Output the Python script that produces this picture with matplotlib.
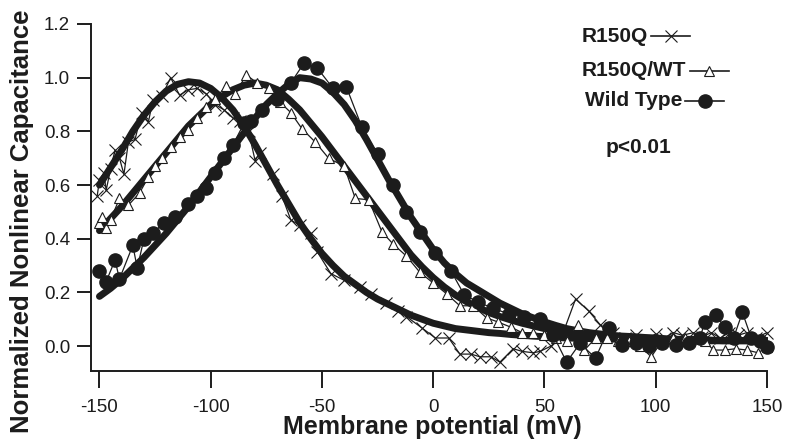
import matplotlib
matplotlib.use('Agg')
import matplotlib.pyplot as plt
from matplotlib.lines import Line2D

plt.rcParams['font.family'] = ['Liberation Sans', 'DejaVu Sans']

INK = '#1c1c1c'

# measured NLC, R150Q (crosses)
r150q_v = [-151, -150, -148, -147, -145, -143, -141, -139, -137, -134, -131, -128,
           -126, -122, -118, -114, -110, -106, -102, -98, -94, -90, -87, -83, -80,
           -78, -72, -68, -64, -60, -55, -52, -46, -40, -33, -28, -21, -16, -12,
           -5, 1, 7, 12, 17, 21, 26, 30, 36, 40, 45, 48, 53, 58, 64, 70, 75, 81,
           86, 91, 95, 100, 104, 108, 112, 117, 121, 125, 129, 133, 137, 141, 145, 150]
r150q_c = [0.56, 0.62, 0.645, 0.58, 0.66, 0.73, 0.70, 0.64, 0.76, 0.77, 0.87, 0.835,
           0.915, 0.93, 1.0, 0.935, 0.955, 0.96, 0.94, 0.90, 0.88, 0.85, 0.84, 0.80, 0.69,
           0.72, 0.64, 0.56, 0.47, 0.45, 0.42, 0.35, 0.27, 0.245, 0.22, 0.195, 0.16, 0.13, 0.11,
           0.067, 0.03, 0.03, -0.03, -0.03, -0.04, -0.04, -0.06, -0.01, -0.02, -0.025, -0.02, 0.0,
           0.04, 0.175, 0.13, 0.08, 0.048, 0.03, 0.04, 0.02, 0.045, 0.03, 0.05, 0.04, 0.05,
           0.035, 0.05, 0.03, 0.05, 0.04, 0.05, 0.03, 0.05]

# measured NLC, R150Q/WT (open triangles)
het_v = [-150, -149, -147, -145, -141, -137, -132, -128, -125, -122, -118, -114, -110,
         -106, -102, -98, -93, -89, -84, -79, -74, -69, -64, -59, -53, -47, -40, -35,
         -29, -23, -18, -12, -6, 0, 6, 12, 18, 24, 29, 35, 40, 45, 50, 55, 60, 65, 68,
         73, 78, 83, 88, 93, 98, 103, 108, 113, 118, 122, 126, 131, 136, 141, 146, 150]
het_c = [0.46, 0.48, 0.44, 0.47, 0.55, 0.525, 0.57, 0.63, 0.67, 0.70, 0.74, 0.78, 0.805,
         0.85, 0.89, 0.92, 0.97, 0.94, 1.01, 0.98, 0.96, 0.91, 0.87, 0.81, 0.76, 0.70, 0.67, 0.55,
         0.545, 0.425, 0.38, 0.335, 0.275, 0.235, 0.195, 0.15, 0.15, 0.105, 0.09, 0.07, 0.05, 0.05,
         0.04, 0.03, 0.02, 0.08, -0.015, 0.03, 0.03, 0.02, 0.02, 0.0, -0.04, 0.02, 0.03, 0.03,
         0.03, 0.02, -0.015, -0.015, -0.01, -0.015, -0.025, -0.005]

# measured NLC, wild type (filled circles)
wt_v = [-150, -147, -143, -141, -135, -133, -130, -126, -121, -116, -110, -106, -102,
        -98, -94, -90, -85, -82, -77, -70, -64, -58, -52, -45, -39, -32, -25, -18, -12,
        -6, 1, 8, 14, 20, 27, 34, 41, 48, 54, 60, 66, 73, 79, 85, 91, 97, 103, 109, 115,
        120, 122, 127, 131, 135, 139, 143, 147, 150]
wt_c = [0.28, 0.24, 0.32, 0.25, 0.375, 0.29, 0.40, 0.42, 0.46, 0.48, 0.53, 0.56, 0.59,
        0.645, 0.70, 0.75, 0.83, 0.84, 0.88, 0.92, 0.98, 1.055, 1.035, 0.96, 0.965, 0.815,
        0.715, 0.60, 0.50, 0.425, 0.345, 0.28, 0.19, 0.165, 0.14, 0.12, 0.11, 0.10, 0.04,
        -0.06, 0.01, -0.045, 0.067, 0.005, 0.01, 0.0, 0.01, 0.005, 0.01, 0.03, 0.09, 0.115,
        0.07, 0.03, 0.125, 0.03, 0.02, -0.005]

fit_v = list(range(-150, 151, 5))
r150q_fit = [0.60, 0.665, 0.73, 0.80, 0.86, 0.91, 0.95, 0.975, 0.985, 0.98, 0.96, 0.925,
             0.88, 0.82, 0.75, 0.675, 0.60, 0.53, 0.46, 0.40, 0.345, 0.30, 0.26, 0.23,
             0.20, 0.175, 0.155, 0.135, 0.115, 0.10, 0.085, 0.075, 0.065, 0.06, 0.055,
             0.05, 0.047, 0.043, 0.04, 0.037, 0.035, 0.032, 0.03, 0.029, 0.028, 0.027,
             0.026, 0.025, 0.024, 0.023, 0.022, 0.022, 0.021, 0.02, 0.02, 0.02, 0.02,
             0.02, 0.02, 0.02, 0.02]
het_fit = [0.43, 0.475, 0.52, 0.57, 0.62, 0.67, 0.72, 0.77, 0.82, 0.86, 0.90, 0.93,
           0.955, 0.972, 0.98, 0.972, 0.955, 0.92, 0.88, 0.83, 0.78, 0.725, 0.67, 0.615,
           0.56, 0.505, 0.45, 0.395, 0.34, 0.295, 0.255, 0.22, 0.19, 0.165, 0.145, 0.125,
           0.11, 0.097, 0.085, 0.075, 0.065, 0.057, 0.05, 0.045, 0.04, 0.036, 0.033, 0.03,
           0.028, 0.026, 0.025, 0.023, 0.022, 0.021, 0.02, 0.02, 0.02, 0.02, 0.02, 0.02, 0.02]
wt_fit = [0.185, 0.215, 0.25, 0.29, 0.33, 0.375, 0.42, 0.47, 0.52, 0.575, 0.63, 0.685,
          0.74, 0.795, 0.85, 0.90, 0.94, 0.975, 1.0, 0.995, 0.98, 0.945, 0.90, 0.84,
          0.77, 0.695, 0.62, 0.55, 0.48, 0.42, 0.36, 0.31, 0.27, 0.235, 0.21, 0.185,
          0.16, 0.14, 0.12, 0.105, 0.09, 0.077, 0.065, 0.057, 0.05, 0.045, 0.04, 0.037,
          0.035, 0.032, 0.03, 0.027, 0.025, 0.025, 0.025, 0.022, 0.02, 0.02, 0.02, 0.02, 0.02]

x_ticks = [-150, -100, -50, 0, 50, 100, 150]
y_ticks = [0.0, 0.2, 0.4, 0.6, 0.8, 1.0, 1.2]

W, H = 786, 442
fig = plt.figure(figsize=(W / 100, H / 100), dpi=100)
ax = fig.add_axes([91 / W, 1 - 371 / H, (768 - 91) / W, (371 - 24) / H])

for fv in (r150q_fit, het_fit, wt_fit):
    ax.plot(fit_v, fv, color=INK, lw=5, solid_capstyle='round', solid_joinstyle='round', zorder=2)

ax.plot(r150q_v, r150q_c, color=INK, lw=0.9, marker='x', ms=9, mew=0.8, zorder=3, clip_on=False)
ax.plot(het_v, het_c, color=INK, lw=0.9, marker='^', ms=7, mew=0.8, mfc='white', zorder=3, clip_on=False)
ax.plot(wt_v, wt_c, color=INK, lw=0.9, marker='o', ms=9.5, zorder=4, clip_on=False)

ax.set_xlim(-153.8, 150.5)
ax.set_ylim(-0.093, 1.2)
ax.set_xticks(x_ticks)
ax.set_xticklabels([str(t) for t in x_ticks])
ax.set_yticks(y_ticks)
ax.set_yticklabels(['%.1f' % t for t in y_ticks])
for s in ('top', 'right'):
    ax.spines[s].set_visible(False)
for s in ('left', 'bottom'):
    ax.spines[s].set_linewidth(1.4)
    ax.spines[s].set_color(INK)
ax.spines['bottom'].set_bounds(-153.8, 150)
ax.spines['left'].set_bounds(-0.093, 1.2)
ax.tick_params(axis='x', direction='out', length=12, width=1.4, pad=8, labelsize=13.5, colors=INK)
ax.tick_params(axis='y', direction='out', length=10, width=1.4, pad=5, labelsize=13.5, colors=INK)

fig.text(432 / W, 1 - 427 / H, 'Membrane potential (mV)', fontsize=18, fontweight='bold',
         ha='center', va='center', color=INK)
fig.text(22 / W, 0.5, 'Normalized Nonlinear Capacitance', rotation=90, fontsize=18.5,
         fontweight='bold', ha='center', va='center', color=INK)

# legend written as in the original: label followed by a sample of the trace
rows = [('R150Q', 582, 36, dict(marker='x', ms=9, mew=0.8)),
        ('R150Q/WT', 582, 71, dict(marker='^', ms=7, mew=0.8, mfc='white')),
        ('Wild Type', 585, 101, dict(marker='o', ms=9.5))]
fig.canvas.draw()
rend = fig.canvas.get_renderer()
for label, x0, y0, mk in rows:
    t = fig.text(x0 / W, 1 - y0 / H, label, fontsize=15, fontweight='bold',
                 ha='left', va='center', color=INK)
    bb = t.get_window_extent(renderer=rend)
    xa, xb = bb.x1 + 3, bb.x1 + 42
    fig.add_artist(Line2D([xa / W, xb / W], [1 - y0 / H] * 2, color=INK, lw=1.2))
    fig.add_artist(Line2D([(xa + xb) / 2 / W], [1 - y0 / H], color=INK, lw=0, **mk))
fig.text(606 / W, 1 - 148 / H, 'p<0.01', fontsize=15, fontweight='bold',
         ha='left', va='center', color=INK)

fig.savefig('out.png', dpi=100)
